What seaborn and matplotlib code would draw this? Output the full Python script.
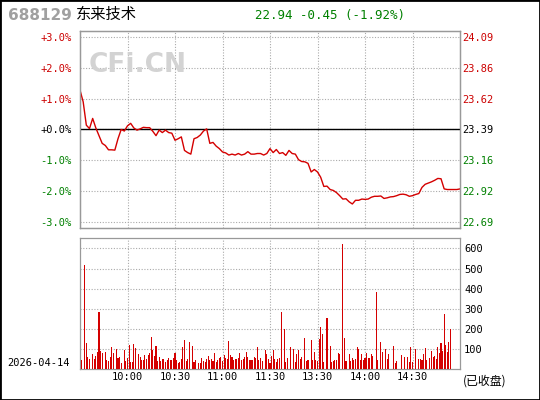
import pandas as pd
import seaborn as sns
import matplotlib.pyplot as plt
from matplotlib.patches import Rectangle

# intraday data for 688129, previous close 23.39
prev_close = 23.39
minutes = list(range(0, 241, 2))
pct_change = [1.28, 0.9, 0.14, 0.03, 0.36, 0.05, -0.2, -0.45, -0.52, -0.66,
              -0.66, -0.67, -0.3, 0.0, -0.05, 0.12, 0.2, 0.05, -0.02, 0.02,
              0.07, 0.06, 0.06, -0.06, -0.2, -0.02, -0.1, -0.02, -0.1, -0.12,
              -0.35, -0.3, -0.24, -0.68, -0.75, -0.8, -0.3, -0.26, -0.18, -0.05,
              0.02, -0.45, -0.42, -0.54, -0.62, -0.73, -0.76, -0.83, -0.8, -0.83,
              -0.78, -0.83, -0.8, -0.72, -0.8, -0.8, -0.78, -0.78, -0.83, -0.78,
              -0.62, -0.75, -0.65, -0.78, -0.75, -0.84, -0.68, -0.78, -0.8, -0.98,
              -1.04, -1.05, -1.1, -1.38, -1.3, -1.38, -1.55, -1.85, -1.84, -1.95,
              -1.98, -2.05, -2.15, -2.26, -2.25, -2.35, -2.42, -2.3, -2.3, -2.26,
              -2.27, -2.26, -2.2, -2.17, -2.17, -2.16, -2.24, -2.22, -2.19, -2.18,
              -2.15, -2.11, -2.1, -2.12, -2.17, -2.15, -2.11, -2.08, -1.88, -1.78,
              -1.74, -1.7, -1.65, -1.59, -1.6, -1.93, -1.95, -1.95, -1.95, -1.95,
              -1.93]

# volume per minute (0..240)
volume = [0, 46, 0, 517, 129, 60, 51, 0, 76, 51,
          66, 86, 284, 91, 81, 0, 86, 46, 41, 61,
          111, 81, 0, 101, 56, 61, 31, 0, 96, 41,
          56, 121, 36, 36, 126, 106, 0, 76, 61, 46,
          46, 71, 51, 71, 81, 160, 96, 66, 116, 41,
          61, 41, 51, 51, 36, 46, 56, 46, 46, 56,
          81, 46, 31, 36, 51, 111, 145, 41, 51, 136,
          0, 116, 36, 46, 0, 31, 31, 56, 41, 36,
          51, 66, 46, 51, 41, 81, 36, 46, 56, 61,
          41, 71, 56, 51, 140, 71, 61, 46, 51, 51,
          56, 81, 46, 51, 61, 86, 61, 46, 46, 46,
          61, 56, 111, 46, 56, 41, 0, 96, 76, 51,
          31, 66, 96, 51, 36, 51, 56, 284, 0, 200,
          36, 56, 0, 111, 0, 101, 36, 76, 96, 51,
          61, 0, 155, 41, 46, 0, 145, 46, 86, 46,
          41, 150, 210, 175, 36, 0, 255, 0, 116, 36,
          41, 46, 46, 81, 76, 0, 621, 155, 41, 0,
          76, 41, 56, 46, 51, 111, 101, 46, 76, 46,
          56, 81, 56, 56, 76, 66, 0, 384, 46, 0,
          136, 86, 0, 101, 51, 76, 0, 0, 116, 31,
          41, 0, 0, 71, 0, 61, 0, 61, 36, 111,
          36, 0, 101, 0, 51, 51, 46, 76, 106, 46,
          0, 56, 91, 61, 66, 51, 111, 81, 131, 91,
          274, 121, 86, 136, 200, 0, 0, 0, 0, 0,
          0]

pct_ticks = [3, 2, 1, 0, -1, -2, -3]
pct_labels = ['+3.0%', '+2.0%', '+1.0%', '+0.0%', '-1.0%', '-2.0%', '-3.0%']
price_labels = ['24.09', '23.86', '23.62', '23.39', '23.16', '22.92', '22.69']
time_ticks = [30, 60, 90, 120, 150, 180, 210]
time_labels = ['10:00', '10:30', '11:00', '11:30', '13:30', '14:00', '14:30']
vol_ticks = [100, 200, 300, 400, 500, 600]

RED = '#cc0000'
GREEN = '#008000'
GRID = '#aaaaaa'
MONO = 'DejaVu Sans Mono'
label_colors = [RED, RED, RED, 'black', GREEN, GREEN, GREEN]

df_price = pd.DataFrame({'minute': minutes, 'pct': pct_change})
df_vol = pd.DataFrame({'minute': list(range(len(volume))), 'vol': volume})

fig = plt.figure(figsize=(5.4, 4.0), dpi=100)
ax = fig.add_axes([80 / 540, 1 - 228 / 400, 380 / 540, 197 / 400])
ax2 = fig.add_axes([80 / 540, 1 - 369.3 / 400, 380 / 540, 131 / 400])

# price panel
sns.lineplot(data=df_price, x='minute', y='pct', ax=ax, color='#d40000',
             linewidth=1.0, zorder=4)
ax.axhline(0, color='black', linewidth=1.0, zorder=3)
ax.set_xlim(0, 240)
ax.set_ylim(-3.2, 3.2)
ax.set_yticks(pct_ticks, pct_labels, fontfamily=MONO, fontsize=7.5)
for lab, c in zip(ax.get_yticklabels(), label_colors):
    lab.set_color(c)
ax.set_xticks(time_ticks, [''] * len(time_ticks))
ax.tick_params(length=0, pad=6)
ax.grid(True, color=GRID, linestyle=(0, (1, 1.5)), linewidth=0.8)
ax.set_xlabel('')
ax.set_ylabel('')

twin = ax.twinx()
twin.set_ylim(ax.get_ylim())
twin.set_yticks(pct_ticks, price_labels, fontfamily=MONO, fontsize=7.5)
for lab, c in zip(twin.get_yticklabels(), label_colors):
    lab.set_color(c)
twin.tick_params(length=0, pad=1.5)

# volume panel
sns.barplot(data=df_vol, x='minute', y='vol', ax=ax2, color='#d40000',
            saturation=1, width=0.72, linewidth=0, zorder=3)
ax2.set_xlim(0, 240)
ax2.set_ylim(0, 650)
ax2.yaxis.tick_right()
ax2.set_yticks(vol_ticks, [str(v) for v in vol_ticks], fontfamily=MONO, fontsize=7.5)
ax2.set_xticks(time_ticks, time_labels, fontfamily=MONO, fontsize=7.5)
ax2.tick_params(length=0, pad=2)
ax2.tick_params(axis='y', pad=3)
ax2.grid(True, color=GRID, linestyle=(0, (1, 1.5)), linewidth=0.8)
ax2.set_axisbelow(True)
ax2.set_xlabel('')
ax2.set_ylabel('')

for a in (ax, twin, ax2):
    for s in a.spines.values():
        s.set_color('#999999')
        s.set_linewidth(0.9)

# header and decorations
fig.text(8 / 540, 1 - 15 / 400, '688129', color='#a0a0a0', fontsize=11,
         fontweight='bold', va='center', ha='left')
fig.text(76 / 540, 1 - 14 / 400, '东来技术', color='black', fontsize=11,
         family=['Noto Sans CJK SC', 'DejaVu Sans'], va='center', ha='left')
fig.text(255 / 540, 1 - 15 / 400, '22.94 -0.45 (-1.92%)', color=GREEN,
         fontsize=9, fontfamily=MONO, va='center', ha='left')
fig.text(137.5 / 540, 1 - 64.5 / 400, 'CFi.CN', color='#d3d3d3', fontsize=19,
         fontweight='bold', va='center', ha='center', zorder=5)
fig.text(7 / 540, 1 - 363 / 400, '2026-04-14', color='black', fontsize=7.5,
         fontfamily=MONO, va='center', ha='left')
fig.text(463 / 540, 1 - 381 / 400, '(已收盘)', color='black', fontsize=8.6,
         family=['Noto Sans CJK SC', 'DejaVu Sans'], va='center', ha='left')

fig.patches.append(Rectangle((0, 0), 1, 1, transform=fig.transFigure,
                             fill=False, edgecolor='black', linewidth=2))

plt.savefig('out.png', dpi=100)
